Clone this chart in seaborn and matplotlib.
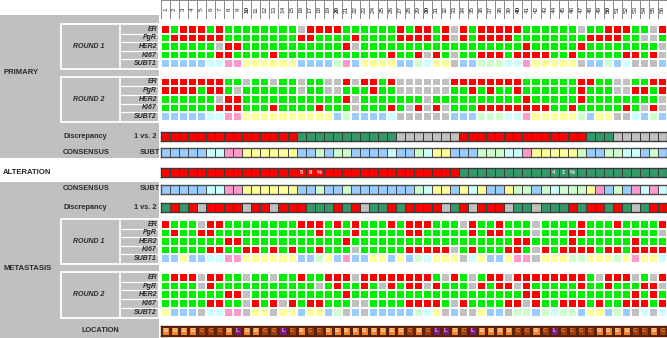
import numpy as np
import matplotlib
matplotlib.use("Agg")
import matplotlib.pyplot as plt
from matplotlib.colors import ListedColormap
from matplotlib.patches import Rectangle
import seaborn as sns

W, H = 667, 338
cases = list(range(1, 57))

# ---- marker codes per case (R pos/high, G neg/low, X n.a.) ----
prim_r1 = {
    "ER":    "RGRRRGRGGGGGGGGXRRR" + "RGGGGGGRGRRGRXRGRRRRRGGGGGGXGGRRRGGXR",
    "PgR":   "GRRRRRRGGGGGGGGRRGG" + "GGRGGGGRRRRGRXRGRRRRGGGGGGGGRRRRGGXXG",
    "HER2":  "GGGGGGXRRGGGGGGGGGG" + "GRX" + "G" * 18 + "R" + "G" * 5 + "R" + "G" * 8 + "X",
    "Ki67":  "GGGGGGRRGGGGRGGGGGG" + "GGGGGGRGGRXRGXGGRRRGRRRRGGRGGGGGRRGRX",
    "SUBT1": "bbbbbccppyyyyyybbbb" + "lpbyyyybblcyyxbblllccpyyyyyxbblbcxxxb",
}
prim_r2 = {
    "ER":    "RRRRRRRGGXGGXGGXGGXXRXRRGRXX" + "XXXXRRRRRRRRGGGGGGRRGGXXGGRR",
    "PgR":   "RRRRGRRGXGGGGGGXGGX" + "XGGGRGGXX" + "XXXXGGRGRGGRGGGGGGRGGGXXRRGR",
    "HER2":  "GGGGGGXRRGGGGGGGGGG" + "GRX" + "G" * 7 + "X" + "G" * 10 + "R" + "G" * 5 + "R" + "G" * 8 + "X",
    "Ki67":  "GGGGGGRRRGGGRGGGGRG" + "GGXGGGRGXRXRXGGGRRRRRRRRGGRGGGGGRGXRX",
    "SUBT2": "bbbbbccppyyyyyyyyyy" + "blbbbbcxx" + "xxxxbbblllccpyyyyylbyyxxcblb",
}
prim_disc = "R" * 15 + "D" * 11 + "X" * 7 + "R" * 14 + "D" * 3 + "X" * 6
prim_cons = "bbbbbccppyyyyyy" + "bblbllbbbbcbb" + "lcyybbblllccpyyyyylbbllccblb"
alteration = "R" * 33 + "D" * 23
alt_text = {16: "5", 17: "9", 18: "%", 44: "4", 45: "1", 46: "%"}
meta_cons = "bbbbbccppyyyyyy" + "bblbbl" + "bbbbbbb" + "lcyybycybbyllblclllypblbpcpc"
meta_disc = "DRDRXRRRRXRRXRRRDDD" + "RDRXDDRDR" + "RRRXDRXRRRXDDXDDDRDRRDRDXDRR"
meta_r1 = {
    "ER":    "RGGGXRRGGGGGGGGRRRG" + "RGRGGGRGRRRGGGXRGGRGGGXGGGGRGGGRGGGGR",
    "PgR":   "GRGGRRGGGGGGGGGGGRG" + "GGRGGGGGRRGGGGGRGRRGGGXGGGRRGGGGGGGGX",
    "HER2":  "GGGGGGGRRGGGGGGGGGG" + "GR" + "G" * 18 + "RR" + "G" * 4 + "R" + "G" * 6 + "R" + "GGG",
    "Ki67":  "GGGGGRRGGRRGRGRGGRG" + "GGXGGGGGRRRRRXGRGGGRRGXRGRRRRGRRGRRRR",
    "SUBT1": "bbybbccppyyyyyybbly" + "bpbbyybyblcyyyxcybbyppxyyyllyyylypyyc",
}
meta_r2 = {
    "ER":    "GRRRXRRGGXGGXGGRGGR" + "RRXRRRRRRRRGXRGXGRRXRRRRRRRRGXRRRXGXR",
    "PgR":   "GGGGXRGGGGGGGGGGGXG" + "RGGRGXRGRRXRGGGXRGRRXRGGGGGRGGRGGGRRX",
    "HER2":  "GGGGGGGRRXGGGGGGGGG" + "GR" + "G" * 19 + "RR" + "G" * 10 + "RGRG",
    "Ki67":  "GGGGGRRGGXRGRXRGRRG" + "GGXXGGGGRRRRGXRGGGGRRXRGGRRRGRGGRRRGR",
    "SUBT2": "ybbbxccppxyyxyybyyb" + "lxbxbbbbblcyxbxxybbxllblcllbyyblbxcxc",
}
location = "BBBBCCCBLBBCCLCBCCB" + "BBBBBBBBCBCLLBCLBBBBCCBCLCCCCBBBBCCBC"

palette = {"R": "#ff0000", "G": "#00ee00", "X": "#c0c0c0", "D": "#339966",
           "b": "#99ccff", "c": "#ccffff", "p": "#ff99cc", "y": "#ffff99", "l": "#ccffcc",
           "x": "#c0c0c0", "B": "#f0832c", "C": "#9a3b10", "L": "#7a1a7a"}
codes = list(palette)
cmap = ListedColormap([palette[k] for k in codes])
GRAY = "#c0c0c0"
INK = "#2a2a2a"

plt.rcParams["font.family"] = ["Liberation Sans", "DejaVu Sans"]

fig = plt.figure(figsize=(W / 100, H / 100), dpi=100)
bg = fig.add_axes([0, 0, 1, 1])
bg.set_xlim(0, W)
bg.set_ylim(H, 0)
bg.axis("off")

X0, X1 = 161, 667


def heat(rows, y0, y1, lw, lc, annot=None, kws=None, frame=None):
    for r in rows:
        assert len(r) == 56, (len(r), r)
    ax = fig.add_axes([X0 / W, 1 - y1 / H, (X1 - X0) / W, (y1 - y0) / H])
    data = np.array([[codes.index(ch) for ch in r] for r in rows])
    sns.heatmap(data, cmap=cmap, vmin=-0.5, vmax=len(codes) - 0.5, cbar=False,
                linewidths=lw, linecolor=lc, xticklabels=False, yticklabels=False,
                annot=annot, fmt="", annot_kws=kws, ax=ax)
    if frame:
        for s in ax.spines.values():
            s.set_visible(True)
            s.set_color(frame)
            s.set_linewidth(1.0)
    return ax


def label(x, y, s, ha="left", size=5.3, style="normal"):
    bg.text(x, y, s, ha=ha, va="center", fontsize=size, fontweight="bold",
            style=style, color=INK)


def round_block(rows, y0, y1, title):
    names = list(rows)
    h = (y1 - y0) / len(names)
    bg.add_patch(Rectangle((61, y0 - 1), 98, y1 - y0 + 2, fc="none", ec="white", lw=1.3))
    bg.plot([120, 120], [y0 - 1, y1 + 1], color="white", lw=1.2)
    for i, nm in enumerate(names):
        if i:
            bg.plot([120, 159], [y0 + i * h] * 2, color="white", lw=0.9)
        label(157, y0 + (i + 0.5) * h, nm, ha="right", size=5.0, style="italic")
    label(89, (y0 + y1) / 2, title, ha="center", size=5.0, style="italic")
    heat(list(rows.values()), y0, y1, 1.4, "white")


# grey panels on the left
bg.add_patch(Rectangle((0, 15), 159, 143, fc=GRAY, ec="none"))
bg.add_patch(Rectangle((0, 182), 159, 156, fc=GRAY, ec="none"))

# case numbers header
hdr = heat(["X" * 56], 0, 19, 0.6, "#8a8a8a",
           annot=np.array([[str(c) for c in cases]]),
           kws={"rotation": 90, "fontsize": 4.6, "color": INK})
hdr.collections[0].set_cmap(ListedColormap(["white"]))
for t in hdr.texts:
    t.set_color(INK)
    if int(t.get_text()) % 10 == 0:
        t.set_fontweight("bold")

# primary
label(3, 72, "PRIMARY", size=5.6)
round_block(prim_r1, 25, 68, "ROUND 1")
round_block(prim_r2, 77.5, 121, "ROUND 2")
label(63, 136, "Discrepancy")
label(157, 136, "1 vs. 2", ha="right")
heat([prim_disc], 132, 140.5, 0.7, "#3a3a3a", frame="#3a3a3a")
label(63, 152.5, "CONSENSUS")
label(160, 152.5, "SUBT", ha="right")
heat([prim_cons], 148, 157, 0.7, "#4a4a4a", frame="#4a4a4a")

# alteration
label(3, 172.5, "ALTERATION", size=5.6)
alt_ann = np.array([[alt_text.get(c, "") for c in cases]])
alt_ax = heat([alteration], 168, 177, 0.7, "#3a3a3a", annot=alt_ann,
              kws={"fontsize": 4.3, "fontweight": "bold"}, frame="#3a3a3a")
for t in alt_ax.texts:
    t.set_color("#f4e4e4")

# metastasis
label(63, 189, "CONSENSUS")
label(160, 189, "SUBT", ha="right")
heat([meta_cons], 185, 193.5, 0.7, "#4a4a4a", frame="#4a4a4a")
label(63, 207.5, "Discrepancy")
label(157, 207.5, "1 vs. 2", ha="right")
heat([meta_disc], 203, 212, 0.7, "#3a3a3a", frame="#3a3a3a")
label(3, 268, "METASTASIS", size=5.6)
round_block(meta_r1, 220, 262.5, "ROUND 1")
round_block(meta_r2, 273, 316.5, "ROUND 2")

# location
label(100, 331, "LOCATION", ha="center")
loc_ann = np.array([list(location)])
loc_ax = heat([location], 326, 336, 0.8, "#5a2208",
              annot=loc_ann, kws={"fontsize": 4.3, "fontweight": "bold"}, frame="#5a2208")
letter_col = {"B": "#ffd9b0", "C": "#f08a3a", "L": "#e7b8e7"}
for t in loc_ax.texts:
    t.set_color(letter_col[t.get_text()])

fig.savefig("out.png", dpi=100)
